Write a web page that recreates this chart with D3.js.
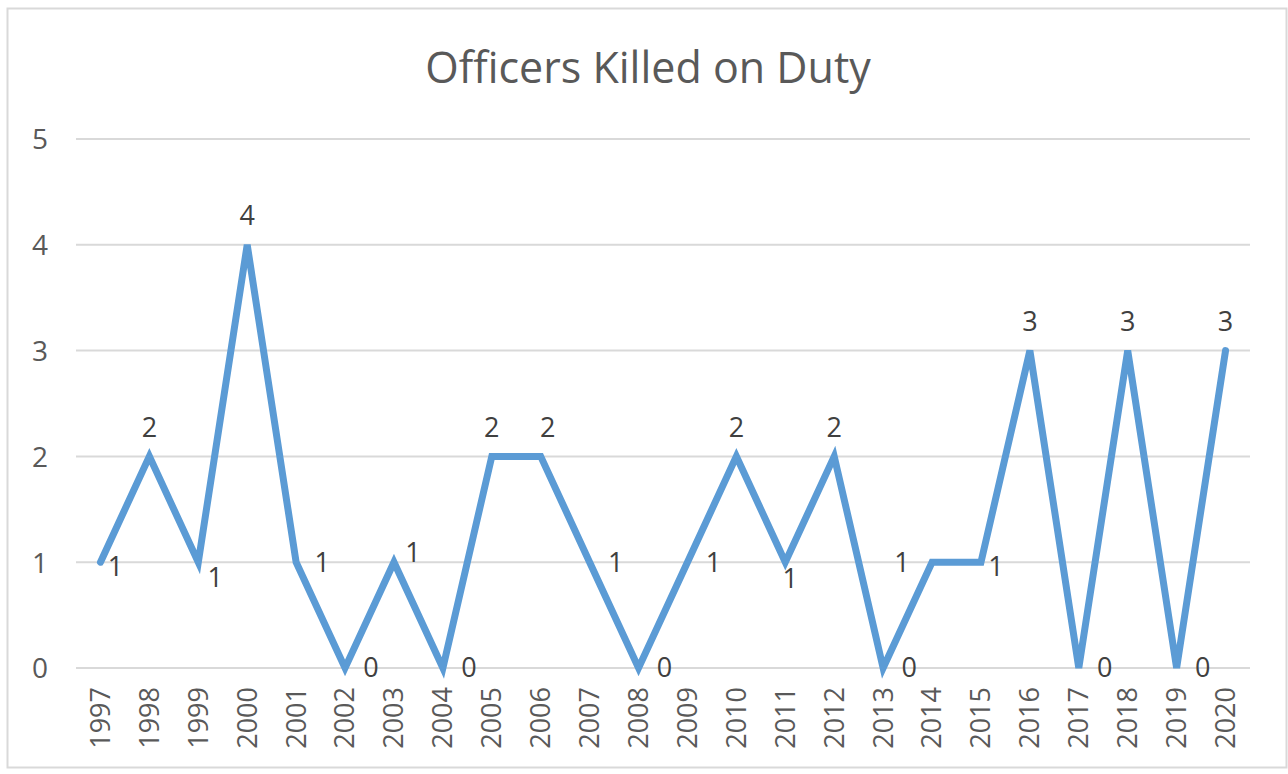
<!DOCTYPE html>
<html>
<head>
<meta charset="utf-8">
<script src="https://cdn.jsdelivr.net/npm/d3@7"></script>
<style>
  body { margin: 0; background: #fff; }
  svg { display: block; }
</style>
</head>
<body>
<svg id="chart"></svg>
<script>
var years = ["1997","1998","1999","2000","2001","2002","2003","2004","2005","2006","2007","2008",
             "2009","2010","2011","2012","2013","2014","2015","2016","2017","2018","2019","2020"]
var killed = [1,2,1,4,1,0,1,0,2,2,1,0,1,2,1,2,0,1,1,3,0,3,0,3]
var yTicks = [0,1,2,3,4,5]
// where Excel put each data label
var labelPlace = ["nearright","above","belowright","above","right","right","upright","right","above","aboveright","right","right",
                  "right","above","below","above","right","left","nearright","above","right","above","right","above"]

var dims = {
    width: 1288,
    height: 774,
    margin: { top: 139, bottom: 106, left: 76, right: 38 }
}

var svg = d3.select('#chart')
            .attr("width", dims.width)
            .attr("height", dims.height)

// chart frame
svg.append("rect")
   .attr("x", 7.5).attr("y", 8.5)
   .attr("width", 1279).attr("height", 759)
   .attr("fill", "white")
   .attr("stroke", "#d9d9d9")
   .attr("stroke-width", 2)

var xScale = d3.scaleBand()
               .domain(years)
               .range([dims.margin.left, dims.width - dims.margin.right])

var yScale = d3.scaleLinear()
               .domain([0, 5])
               .range([dims.height - dims.margin.bottom, dims.margin.top])

var xMid = d => xScale(d) + xScale.bandwidth() / 2

// gridlines
svg.append("g")
   .selectAll("line")
   .data(yTicks)
   .enter()
   .append("line")
   .attr("x1", dims.margin.left)
   .attr("x2", dims.width - dims.margin.right)
   .attr("y1", d => yScale(d))
   .attr("y2", d => yScale(d))
   .attr("stroke", "#d9d9d9")
   .attr("stroke-width", 2)

var yAxisGen = d3.axisLeft(yScale).tickValues(yTicks).tickSize(0).tickPadding(0).tickFormat(d3.format("d"))
var yAxis = svg.append("g")
               .attr("transform", `translate(${dims.margin.left - 28},0)`)
               .call(yAxisGen)
yAxis.select(".domain").remove()
yAxis.selectAll("text")
     .attr("fill", "#595959")
     .attr("font-family", "Open Sans, sans-serif")
     .attr("font-size", "28px")
     .attr("dy", "0.35em")

var xAxisGen = d3.axisBottom(xScale).tickSize(0).tickPadding(0)
var xAxis = svg.append("g")
               .attr("transform", `translate(0,${dims.height - dims.margin.bottom})`)
               .call(xAxisGen)
xAxis.select(".domain").remove()
xAxis.selectAll("text")
     .attr("fill", "#595959")
     .attr("font-family", "Open Sans, sans-serif")
     .attr("font-size", "27px")
     .attr("text-anchor", "end")
     .attr("transform", "rotate(-90)")
     .attr("x", -19)
     .attr("y", 0)
     .attr("dy", "0.35em")

var line = d3.line()
             .x((d, i) => xMid(years[i]))
             .y(d => yScale(d))

svg.append("path")
   .datum(killed)
   .attr("d", line)
   .attr("fill", "none")
   .attr("stroke", "#5b9bd5")
   .attr("stroke-width", 7)
   .attr("stroke-linejoin", "miter")
   .attr("stroke-linecap", "round")

var offsets = {
    above: [0, -29],
    below: [5, 16],
    right: [26, 0],
    left: [-30, 0],
    nearright: [15, 4],
    upright: [19, -10],
    aboveright: [7, -29],
    belowright: [17, 15]
}

svg.append("g")
   .selectAll("text")
   .data(killed)
   .enter()
   .append("text")
   .attr("x", (d, i) => xMid(years[i]) + offsets[labelPlace[i]][0])
   .attr("y", (d, i) => yScale(d) + offsets[labelPlace[i]][1])
   .attr("dy", "0.35em")
   .attr("text-anchor", "middle")
   .attr("fill", "#404040")
   .attr("font-family", "Open Sans, sans-serif")
   .attr("font-size", "27px")
   .text(d => d)

svg.append("text")
   .attr("x", 648)
   .attr("y", 68)
   .attr("dy", "0.35em")
   .attr("text-anchor", "middle")
   .attr("fill", "#595959")
   .attr("font-family", "Open Sans, sans-serif")
   .attr("font-size", "43px")
   .text("Officers Killed on Duty")
</script>
</body>
</html>
